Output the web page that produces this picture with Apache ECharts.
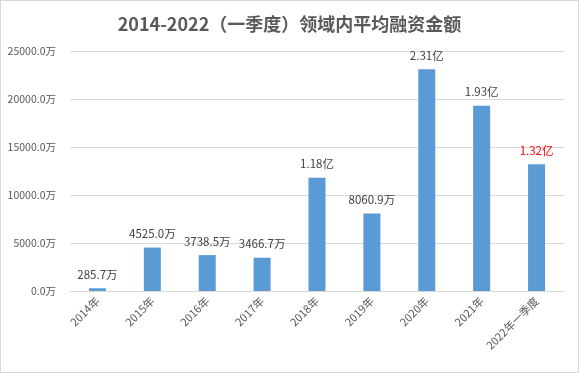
<!DOCTYPE html>
<html><head><meta charset="utf-8">
<script src="https://cdn.jsdelivr.net/npm/echarts@6/dist/echarts.min.js"></script>
<style>html,body{margin:0;padding:0;background:#fff}#c{width:577px;height:371px;border:1px solid #d9d9d9}</style>
</head><body><div id="c"></div>
<script>
const categories = ['2014年','2015年','2016年','2017年','2018年','2019年','2020年','2021年','2022年一季度'];
const values = [285.7, 4525.0, 3738.5, 3466.7, 11800, 8060.9, 23100, 19300, 13200];
const labels = ['285.7万','4525.0万','3738.5万','3466.7万','1.18亿','8060.9万','2.31亿','1.93亿','1.32亿'];
const labelColors = ['#404040','#404040','#404040','#404040','#404040','#404040','#404040','#404040','#ff0000'];
const yTicks = [0, 5000, 10000, 15000, 20000, 25000];
const font = '"Noto Sans CJK SC", sans-serif';
const chart = echarts.init(document.getElementById('c'));
chart.setOption({
  animation: false,
  title: {text: '2014-2022（一季度）领域内平均融资金额', left: 'center', top: 9,
    textStyle: {fontSize: 18, fontWeight: 'bold', color: '#595959', fontFamily: font}},
  grid: {left: 69, right: 14, top: 50, bottom: 81},
  xAxis: {type: 'category', data: categories,
    axisLine: {lineStyle: {color: '#d9d9d9'}}, axisTick: {show: false},
    axisLabel: {rotate: 45, color: '#595959', fontSize: 11, fontFamily: font, margin: 8, interval: 0}},
  yAxis: {type: 'value', min: yTicks[0], max: yTicks[yTicks.length-1], interval: 5000,
    axisLine: {show: false}, axisTick: {show: false},
    splitLine: {lineStyle: {color: '#d9d9d9'}},
    axisLabel: {color: '#595959', fontSize: 10.5, fontFamily: font, margin: 14,
      formatter: v => v.toFixed(1) + '万'}},
  series: [{type: 'bar', barWidth: '31%',
    data: values.map((v, i) => ({value: v, label: {formatter: labels[i], color: labelColors[i]}})),
    itemStyle: {color: '#5b9bd5'},
    label: {show: true, position: 'top', distance: 8, fontSize: 11.5, fontFamily: font}}]
});
</script></body></html>
